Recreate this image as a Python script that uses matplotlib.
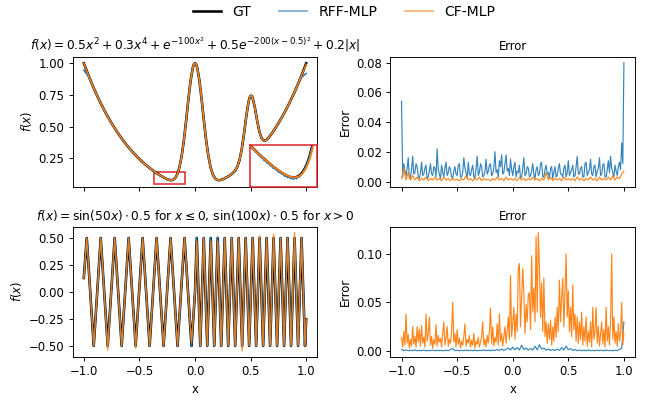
import numpy as np
import matplotlib
matplotlib.use("Agg")
import matplotlib.pyplot as plt
from matplotlib.patches import Rectangle

# ---------------- top row: smooth function with two bumps ----------------
top_x = [-1.0, -0.95, -0.9, -0.85, -0.8, -0.75, -0.7, -0.65, -0.6, -0.55,
         -0.5, -0.45, -0.4, -0.35, -0.3, -0.25, -0.22, -0.2, -0.18, -0.16,
         -0.14, -0.12, -0.1, -0.08, -0.06, -0.04, -0.02, -0.01, 0.0, 0.01,
         0.02, 0.04, 0.06, 0.08, 0.1, 0.12, 0.14, 0.16, 0.18, 0.2,
         0.22, 0.25, 0.28, 0.3, 0.33, 0.36, 0.38, 0.4, 0.42, 0.44,
         0.46, 0.48, 0.49, 0.5, 0.51, 0.52, 0.54, 0.56, 0.58, 0.6,
         0.62, 0.64, 0.66, 0.7, 0.75, 0.8, 0.85, 0.9, 0.95, 1.0]
top_gt = [1.0, 0.8856, 0.7818, 0.6879, 0.6029, 0.5262, 0.4570, 0.3948, 0.3389, 0.2888,
          0.2438, 0.2036, 0.1677, 0.1358, 0.1076, 0.0844, 0.0768, 0.0788, 0.0917, 0.1223,
          0.1788, 0.2682, 0.3929, 0.5465, 0.7115, 0.8609, 0.9650, 0.9921, 1.0, 0.9921,
          0.9650, 0.8609, 0.7115, 0.5465, 0.3929, 0.2682, 0.1788, 0.1223, 0.0917, 0.0788,
          0.0768, 0.0844, 0.0974, 0.1077, 0.1256, 0.1517, 0.1825, 0.2354, 0.3205, 0.4394,
          0.5742, 0.6887, 0.7255, 0.7438, 0.7425, 0.7227, 0.6423, 0.5417, 0.4572, 0.4066,
          0.3886, 0.3930, 0.4097, 0.4572, 0.5262, 0.6029, 0.6879, 0.7818, 0.8856, 1.0]
top_rff = [0.946, 0.8850, 0.7822, 0.6871, 0.6035, 0.5255, 0.4575, 0.3941, 0.3394, 0.2880,
           0.2443, 0.2030, 0.1672, 0.1350, 0.1070, 0.0838, 0.0752, 0.0780, 0.0910, 0.1218,
           0.1790, 0.2680, 0.3932, 0.5460, 0.7118, 0.8605, 0.9655, 0.9918, 0.9995, 0.9925,
           0.9646, 0.8612, 0.7110, 0.5469, 0.3925, 0.2685, 0.1783, 0.1228, 0.0912, 0.0792,
           0.0762, 0.0849, 0.0969, 0.1081, 0.1251, 0.1522, 0.1820, 0.2358, 0.3200, 0.4398,
           0.5738, 0.6891, 0.7250, 0.7442, 0.7420, 0.7231, 0.6418, 0.5421, 0.4567, 0.4070,
           0.3881, 0.3934, 0.4092, 0.4577, 0.5257, 0.6033, 0.6874, 0.7822, 0.8830, 0.92]
top_cf = [1.0, 0.8857, 0.7817, 0.6880, 0.6028, 0.5263, 0.4569, 0.3949, 0.3388, 0.2889,
          0.2437, 0.2037, 0.1676, 0.1359, 0.1077, 0.0847, 0.0772, 0.0784, 0.0905, 0.1205,
          0.1770, 0.2670, 0.3925, 0.5468, 0.7113, 0.8611, 0.9648, 0.9920, 0.9998, 0.9920,
          0.9652, 0.8607, 0.7117, 0.5463, 0.3931, 0.2680, 0.1790, 0.1221, 0.0919, 0.0786,
          0.0770, 0.0842, 0.0976, 0.1075, 0.1258, 0.1515, 0.1827, 0.2352, 0.3207, 0.4392,
          0.5744, 0.6885, 0.7257, 0.7436, 0.7427, 0.7225, 0.6425, 0.5415, 0.4574, 0.4064,
          0.3888, 0.3928, 0.4099, 0.4570, 0.5264, 0.6027, 0.6881, 0.7816, 0.8858, 0.993]

# zoom window around the left minimum
zoom_x = np.linspace(-0.37, -0.14, 47)
zoom_gt = [0.1481, 0.1450, 0.1420, 0.1389, 0.1358, 0.1329, 0.1299, 0.1270, 0.1240, 0.1212,
           0.1184, 0.1157, 0.1129, 0.1103, 0.1076, 0.1050, 0.1024, 0.0999, 0.0974, 0.0951,
           0.0927, 0.0905, 0.0883, 0.0863, 0.0844, 0.0827, 0.0810, 0.0796, 0.0783, 0.0774,
           0.0768, 0.0766, 0.0768, 0.0775, 0.0788, 0.0808, 0.0835, 0.0871, 0.0917, 0.0974,
           0.1043, 0.1125, 0.1223, 0.1337, 0.1468, 0.1617, 0.1788]
zoom_rff = [0.1470, 0.1432, 0.1405, 0.1365, 0.1350, 0.1300, 0.1292, 0.1240, 0.1232, 0.1180,
            0.1178, 0.1120, 0.1122, 0.1070, 0.1068, 0.1015, 0.1018, 0.0960, 0.0968, 0.0925,
            0.0921, 0.0868, 0.0878, 0.0840, 0.0838, 0.0790, 0.0806, 0.0760, 0.0779, 0.0738,
            0.0764, 0.0725, 0.0764, 0.0735, 0.0784, 0.0770, 0.0832, 0.0850, 0.0912, 0.0960,
            0.1040, 0.1118, 0.1220, 0.1330, 0.1465, 0.1612, 0.1785]
zoom_cf = [0.1478, 0.1448, 0.1418, 0.1387, 0.1356, 0.1327, 0.1298, 0.1269, 0.1240, 0.1212,
           0.1185, 0.1158, 0.1131, 0.1105, 0.1079, 0.1053, 0.1028, 0.1003, 0.0978, 0.0955,
           0.0932, 0.0910, 0.0889, 0.0869, 0.0850, 0.0833, 0.0817, 0.0802, 0.0789, 0.0779,
           0.0772, 0.0768, 0.0768, 0.0772, 0.0781, 0.0796, 0.0818, 0.0848, 0.0886, 0.0935,
           0.0995, 0.1068, 0.1155, 0.1258, 0.1380, 0.1520, 0.1680]

# absolute errors, in units of 1e-3
err_x = np.linspace(-1, 1, 101)
err_x_fine = np.linspace(-1, 1, 201)
top_err_rff = [54, 3, 12, 7, 4, 9, 16, 2, 3, 8,
               17, 5, 6, 12, 10, 3, 2, 6, 13, 4,
               5, 9, 11, 2, 3, 7, 12, 5, 4, 10,
               9, 3, 22, 8, 5, 2, 11, 6, 3, 9,
               13, 4, 6, 10, 8, 3, 2, 7, 10, 5,
               4, 11, 12, 3, 3, 6, 16, 9, 6, 2,
               13, 5, 4, 8, 11, 3, 2, 9, 17, 4,
               6, 12, 10, 3, 4, 7, 15, 5, 7, 11,
               12, 4, 5, 9, 20, 6, 8, 3, 14, 10,
               18, 5, 6, 12, 18, 7, 9, 4, 15, 8,
               4, 10, 13, 3, 7, 6, 11, 2, 3, 9,
               16, 4, 5, 10, 9, 3, 4, 7, 12, 5,
               2, 8, 10, 4, 5, 12, 13, 3, 3, 8,
               11, 5, 6, 2, 9, 10, 2, 6, 10, 3,
               4, 9, 12, 5, 5, 3, 9, 11, 3, 6,
               14, 4, 6, 8, 11, 3, 4, 10, 17, 5,
               5, 9, 10, 3, 3, 12, 13, 4, 6, 8,
               15, 5, 4, 10, 11, 3, 7, 9, 16, 4,
               5, 11, 12, 3, 3, 8, 14, 6, 17, 9,
               6, 3, 11, 7, 4, 10, 13, 8, 26, 12,
               80]
top_err_cf = [2, 9, 1, 6, 1, 4, 1, 3, 0.5, 2,
              1, 3, 0.5, 2, 1, 3, 1, 2, 0.5, 3,
              1, 2, 0.5, 2, 1, 1.5, 0.5, 2, 1, 4,
              1, 2, 0.5, 2, 1, 3, 0.5, 2, 1, 1.5,
              0.5, 2, 1, 3, 1, 2, 0.5, 3, 1, 2,
              1, 2, 0.5, 3, 1, 2, 0.5, 2, 1, 3,
              1, 2, 0.5, 2, 1, 6, 1, 3, 0.5, 2,
              1, 2, 0.5, 3, 1, 2, 1, 2, 0.5, 3,
              1, 2, 0.5, 2, 1, 3, 1, 2, 0.5, 3,
              1, 2, 1, 3, 1, 4, 1, 3, 2, 5,
              7]

# ---------------- bottom row: two-frequency sine ----------------
sin_x = [-1.0,
         -0.9739, -0.9425, -0.9111, -0.8796, -0.8482, -0.8168, -0.7854, -0.7540,
         -0.7226, -0.6912, -0.6597, -0.6283, -0.5969, -0.5655, -0.5341, -0.5027,
         -0.4712, -0.4398, -0.4084, -0.3770, -0.3456, -0.3142, -0.2827, -0.2513,
         -0.2199, -0.1885, -0.1571, -0.1257, -0.0942, -0.0628, -0.0314, 0.0,
         0.0157, 0.0314, 0.0471, 0.0628, 0.0785, 0.0942, 0.1100, 0.1257,
         0.1414, 0.1571, 0.1728, 0.1885, 0.2042, 0.2199, 0.2356, 0.2513,
         0.2670, 0.2827, 0.2985, 0.3142, 0.3299, 0.3456, 0.3613, 0.3770,
         0.3927, 0.4084, 0.4241, 0.4398, 0.4555, 0.4712, 0.4869, 0.5027,
         0.5184, 0.5341, 0.5498, 0.5655, 0.5812, 0.5969, 0.6126, 0.6283,
         0.6440, 0.6597, 0.6754, 0.6912, 0.7069, 0.7226, 0.7383, 0.7540,
         0.7697, 0.7854, 0.8011, 0.8168, 0.8325, 0.8482, 0.8639, 0.8796,
         0.8954, 0.9111, 0.9268, 0.9425, 0.9582, 0.9739, 0.9896, 1.0]
sin_gt = [0.131,
          0.5, 0, -0.5, 0, 0.5, 0, -0.5, 0,
          0.5, 0, -0.5, 0, 0.5, 0, -0.5, 0,
          0.5, 0, -0.5, 0, 0.5, 0, -0.5, 0,
          0.5, 0, -0.5, 0, 0.5, 0, -0.5, 0,
          0.5, 0, -0.5, 0, 0.5, 0, -0.5, 0,
          0.5, 0, -0.5, 0, 0.5, 0, -0.5, 0,
          0.5, 0, -0.5, 0, 0.5, 0, -0.5, 0,
          0.5, 0, -0.5, 0, 0.5, 0, -0.5, 0,
          0.5, 0, -0.5, 0, 0.5, 0, -0.5, 0,
          0.5, 0, -0.5, 0, 0.5, 0, -0.5, 0,
          0.5, 0, -0.5, 0, 0.5, 0, -0.5, 0,
          0.5, 0, -0.5, 0, 0.5, 0, -0.5, -0.253]
sin_rff = [0.134,
           0.5, 0, -0.5, 0, 0.5, 0, -0.5, 0,
           0.5, 0, -0.5, 0, 0.5, 0, -0.5, 0,
           0.5, 0, -0.5, 0, 0.5, 0, -0.5, 0,
           0.5, 0, -0.5, 0, 0.5, 0, -0.502, 0,
           0.504, 0, -0.5, 0, 0.505, 0, -0.5, 0,
           0.504, 0, -0.5, 0, 0.505, 0, -0.5, 0,
           0.5, 0, -0.5, 0, 0.504, 0, -0.5, 0,
           0.5, 0, -0.5, 0, 0.5, 0, -0.5, 0,
           0.5, 0, -0.5, 0, 0.5, 0, -0.5, 0,
           0.5, 0, -0.5, 0, 0.5, 0, -0.5, 0,
           0.5, 0, -0.5, 0, 0.5, 0, -0.5, 0,
           0.5, 0, -0.5, 0, 0.5, 0, -0.5, -0.26]
sin_cf = [0.115,
          0.5, 0, -0.5, 0, 0.5, 0, -0.535, 0,
          0.5, 0, -0.5, 0, 0.5, 0, -0.52, 0,
          0.5, 0, -0.5, 0, 0.5, 0, -0.5, 0,
          0.5, 0, -0.5, 0, 0.5, 0, -0.47, 0,
          0.47, 0, -0.5, 0, 0.5, 0, -0.5, 0,
          0.47, 0, -0.5, 0, 0.47, 0, -0.5, 0,
          0.5, 0, -0.5, 0, 0.5, 0, -0.5, 0,
          0.5, 0, -0.545, 0, 0.5, 0, -0.5, 0,
          0.5, 0, -0.5, 0, 0.52, 0, -0.5, 0,
          0.5, 0, -0.5, 0, 0.535, 0, -0.5, 0,
          0.5, 0, -0.5, 0, 0.5, 0, -0.5, 0,
          0.55, 0, -0.5, 0, 0.5, 0, -0.5, -0.25]

bot_err_rff = [1.5, 0.3, 1.0, 0.2, 0.8, 0.3, 1.2, 0.2, 0.6, 0.3,
               0.9, 0.2, 0.5, 0.3, 1.0, 0.2, 0.7, 0.3, 0.6, 0.2,
               0.9, 0.3, 1.5, 2.5, 0.3, 0.8, 0.2, 0.6, 0.3, 1.0,
               0.2, 0.7, 0.3, 0.9, 0.2, 0.6, 0.4, 1.2, 0.3, 0.8,
               0.3, 1.0, 0.4, 1.5, 0.5, 2.0, 0.6, 1.8, 3.0, 1.0,
               4.0, 1.2, 3.5, 1.0, 6.0, 1.5, 3.0, 0.8, 2.5, 1.0,
               5.0, 1.2, 6.5, 2.0, 3.0, 0.8, 2.0, 0.5, 1.5, 0.4,
               2.0, 0.6, 3.5, 1.0, 5.0, 1.2, 2.5, 0.5, 1.5, 0.3,
               1.0, 0.3, 0.8, 0.2, 1.2, 0.3, 0.6, 0.2, 0.9, 0.3,
               0.7, 0.2, 1.0, 0.3, 0.6, 0.2, 0.8, 0.4, 1.5, 3.0,
               30]
bot_err_cf = [14, 4, 20, 6, 38, 8, 17, 3, 12, 5,
              25, 7, 15, 4, 25, 9, 22, 5, 26, 8,
              14, 4, 38, 10, 18, 35, 6, 15, 3, 12,
              7, 27, 5, 16, 9, 13, 4, 18, 30, 6,
              14, 25, 5, 12, 8, 20, 50, 9, 18, 4,
              22, 7, 13, 3, 10, 6, 15, 28, 5, 12,
              8, 16, 4, 11, 6, 18, 3, 10, 7, 14,
              4, 9, 15, 30, 6, 12, 4, 16, 8, 20,
              44, 7, 25, 5, 14, 9, 28, 6, 38, 10,
              18, 5, 15, 25, 8, 20, 35, 12, 78, 15,
              28, 45, 12, 38, 20, 85, 90, 25, 55, 85,
              60, 18, 48, 30, 58, 60, 22, 98, 40, 65,
              30, 118, 40, 122, 88, 35, 70, 20, 75, 15,
              30, 8, 28, 12, 32, 6, 25, 10, 35, 14,
              45, 20, 73, 30, 55, 75, 25, 60, 100, 35,
              62, 20, 45, 15, 68, 22, 38, 10, 35, 8,
              30, 12, 40, 6, 25, 10, 35, 5, 20, 9,
              30, 4, 45, 12, 20, 45, 8, 25, 5, 18,
              30, 7, 22, 4, 45, 10, 25, 6, 30, 100,
              12, 35, 8, 20, 5, 28, 10, 18, 50, 6,
              18]

# zoom rectangle drawn on the main panel
rect_x0, rect_y0, rect_w, rect_h = -0.372, 0.045, 0.282, 0.099

C_RFF = "tab:blue"
C_CF = "tab:orange"
C_BOX = "#e0202a"
DPI = 84

fig, axes = plt.subplots(2, 2, figsize=(647 / DPI, 400 / DPI), dpi=DPI, sharex=True)
fig.subplots_adjust(left=0.1124, right=0.9815, top=0.8583, bottom=0.1083,
                    wspace=0.299, hspace=0.3077)

# top left
ax = axes[0, 0]
h_gt, = ax.plot(top_x, top_gt, color="black", lw=2.2, label="GT")
ax.plot(top_x, top_rff, color=C_RFF, lw=1.3)
ax.plot(top_x, top_cf, color=C_CF, lw=1.3)
ax.set_ylim(0.026, 1.052)
ax.set_ylabel(r"$f(x)$")
ax.set_title(r"$f(x) = 0.5x^2 + 0.3x^4 + e^{-100x^2} + 0.5e^{-200(x-0.5)^2} + 0.2|x|$",
             fontsize=10.5)
ax.add_patch(Rectangle((rect_x0, rect_y0), rect_w, rect_h, fill=False,
                       edgecolor=C_BOX, lw=1.3))

ins = ax.inset_axes([0.724, 0.0, 0.276, 0.32])
ins.plot(zoom_x, zoom_gt, color="black", lw=2.2)
ins.plot(zoom_x, zoom_rff, color=C_RFF, lw=1.3)
ins.plot(zoom_x, zoom_cf, color=C_CF, lw=1.6)
ins.set_xlim(-0.364, -0.134)
ins.set_ylim(0.057, 0.145)
ins.set_xticks([])
ins.set_yticks([])
for s in ins.spines.values():
    s.set_edgecolor(C_BOX)
    s.set_linewidth(1.3)

# top right
ax = axes[0, 1]
ax.plot(err_x_fine, np.array(top_err_rff) / 1000, color=C_RFF, lw=1.0, alpha=0.9)
ax.plot(err_x, np.array(top_err_cf) / 1000, color=C_CF, lw=1.0, alpha=0.95)
ax.set_ylabel("Error")
ax.set_title("Error", fontsize=10)

# bottom left
ax = axes[1, 0]
ax.plot(sin_x, sin_gt, color="black", lw=2.2)
ax.plot(sin_x, sin_rff, color=C_RFF, lw=1.2)
ax.plot(sin_x, sin_cf, color=C_CF, lw=1.2, alpha=0.85)
ax.set_ylabel(r"$f(x)$")
ax.set_xlabel("x")
ax.set_title(r"$f(x) = \sin(50x) \cdot 0.5$ for $x \leq 0$, $\sin(100x) \cdot 0.5$ for $x > 0$",
             fontsize=10.5)

# bottom right
ax = axes[1, 1]
ax.plot(err_x, np.array(bot_err_rff) / 1000, color=C_RFF, lw=1.0, alpha=0.9)
ax.plot(err_x_fine, np.array(bot_err_cf) / 1000, color=C_CF, lw=1.0, alpha=0.95)
ax.set_ylabel("Error")
ax.set_xlabel("x")
ax.set_title("Error", fontsize=10)

axes[1, 0].set_xticks([-1.0, -0.5, 0.0, 0.5, 1.0])

# legend uses lighter copies of the model colours
leg_rff = plt.Line2D([], [], color=C_RFF, lw=1.5, alpha=0.6)
leg_cf = plt.Line2D([], [], color=C_CF, lw=1.5, alpha=0.6)
fig.legend(handles=[h_gt, leg_rff, leg_cf], labels=["GT", "RFF-MLP", "CF-MLP"],
           loc="upper center", bbox_to_anchor=(0.532, 1.018), ncol=3, frameon=False,
           fontsize=12)

fig.savefig("out.png", dpi=DPI)
